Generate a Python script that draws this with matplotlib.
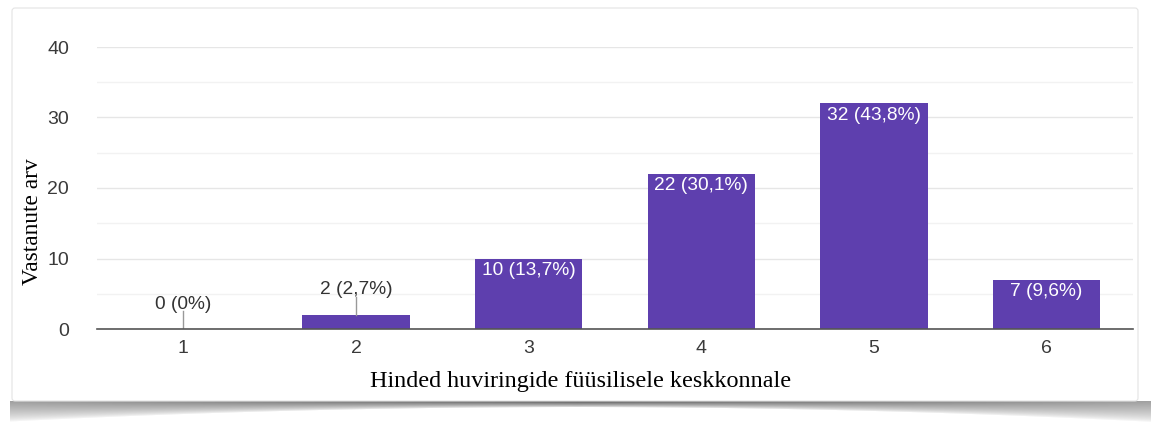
import matplotlib.pyplot as plt
from matplotlib.patches import FancyBboxPatch
import numpy as np

categories = ['1', '2', '3', '4', '5', '6']
counts = [0, 2, 10, 22, 32, 7]
labels = ['0 (0%)', '2 (2,7%)', '10 (13,7%)', '22 (30,1%)', '32 (43,8%)', '7 (9,6%)']

W, H = 1155, 422
fig = plt.figure(figsize=(W / 100, H / 100), dpi=100)
fig.patch.set_facecolor('white')

# curled-page shadow under the card
bg = fig.add_axes([0, 0, 1, 1], zorder=0)
bg.set_axis_off()
px = np.arange(W)[None, :]
py = np.arange(H)[:, None]
d = py - 401.0
thick = 6 + 15 * ((px - 577.0) / 577.0) ** 2
dark = 0.62 - 0.25 * np.abs((px - 577.0) / 577.0)
alpha = np.where(d >= 0, dark * np.clip(1 - d / thick, 0, 1) ** 0.7, 0)
alpha = np.where((px < 10) | (px > 1150), 0, alpha)
img = np.zeros((H, W, 4))
img[..., 3] = alpha
bg.imshow(img, extent=[0, W, H, 0], aspect='auto', interpolation='bilinear')
bg.set_xlim(0, W)
bg.set_ylim(H, 0)
bg.add_patch(FancyBboxPatch((12, 8), 1126, 393,
                            boxstyle='round,pad=0,rounding_size=3',
                            facecolor='white', edgecolor='#e4e4e4', linewidth=0.8))

ax = fig.add_axes([97 / W, 1 - 329 / H, 1036 / W, (329 - 47) / H], zorder=2)
ax.set_facecolor('none')

x = np.arange(1, len(categories) + 1)
bars = ax.bar(x, counts, width=0.62, color='#5e3fae', zorder=3)

ax.set_xlim(0.5, 6.5)
ax.set_ylim(0, 40)
ax.set_yticks([0, 10, 20, 30, 40])
ax.set_yticks([5, 15, 25, 35], minor=True)
ax.grid(axis='y', which='major', color='#e6e6e6', linewidth=1, zorder=0)
ax.grid(axis='y', which='minor', color='#f2f2f2', linewidth=1, zorder=0)
ax.set_xticks(x)
ax.set_xticklabels(categories)

for s in ['top', 'right', 'left']:
    ax.spines[s].set_visible(False)
ax.spines['bottom'].set_color('#555555')
ax.spines['bottom'].set_linewidth(1.2)
ax.spines['bottom'].set_zorder(4)
ax.tick_params(axis='both', which='both', length=0, labelsize=14, labelcolor='#3a3a3a',
               labelfontfamily='Liberation Sans')
ax.tick_params(axis='x', pad=8)
ax.tick_params(axis='y', pad=20)

for rect, v, lab in zip(bars, counts, labels):
    cx = rect.get_x() + rect.get_width() / 2
    if v < 5:
        ax.plot([cx, cx], [v, v + 2.5], color='#999999', linewidth=1, zorder=4)
        ax.text(cx, v + 2.9, lab, ha='center', va='baseline', fontsize=13.8,
                color='#333333', family='Liberation Sans')
    else:
        ax.text(cx, v - 0.5, lab, ha='center', va='top', fontsize=13.8,
                color='white', family='Liberation Sans', zorder=5)

fig.text(32 / W, 1 - 222 / H, 'Vastanute arv', family='Liberation Serif', fontsize=16.8,
         rotation=90, ha='center', va='center')
fig.text(581 / W, 1 - 382 / H, 'Hinded huviringide füüsilisele keskkonnale',
         family='Liberation Serif', fontsize=17.4, ha='center', va='center')

plt.savefig('out.png', dpi=100)
